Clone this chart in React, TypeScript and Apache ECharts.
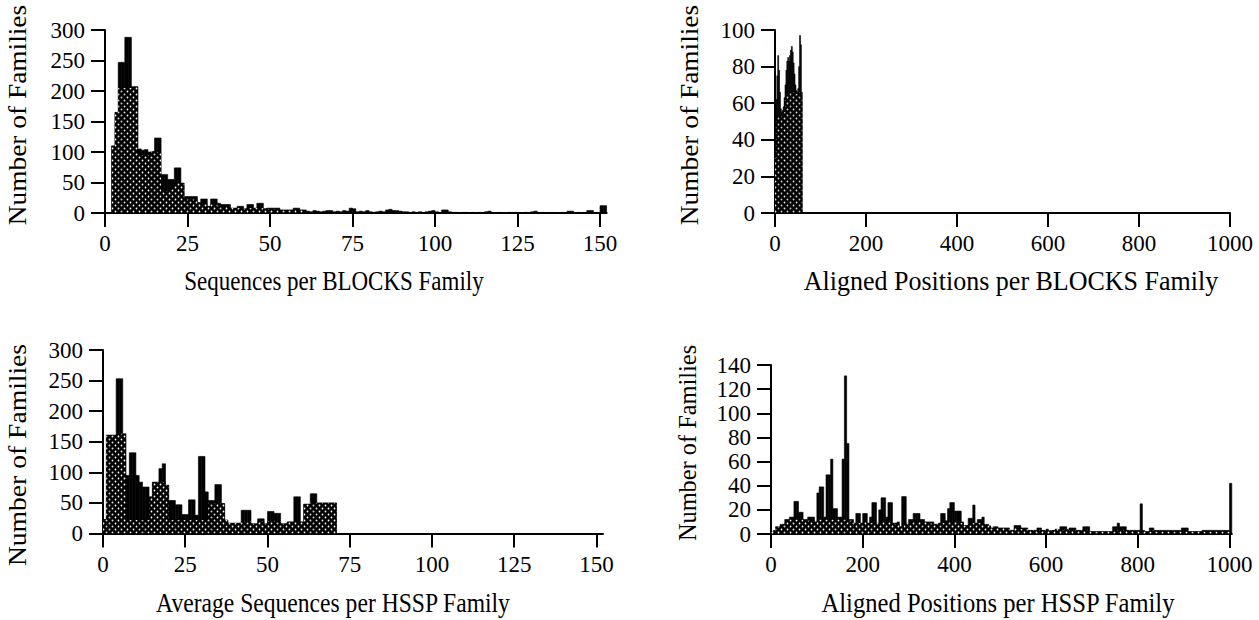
import React, { useEffect, useRef } from "react";
import * as echarts from "echarts";

const FONT = '"Liberation Serif", "Times New Roman", serif';

// ---------- Panel 1: Sequences per BLOCKS Family (bins of 1, from 0) ----------
const p1Ticks = [0, 25, 50, 75, 100, 125, 150];
const p1Black = [
  0, 0, 110, 165, 247, 247, 288, 288, 207, 207,
  105, 103, 104, 100, 101, 123, 123, 63, 63, 55,
  55, 74, 74, 49, 27, 27, 27, 27, 17, 23,
  23, 11, 23, 23, 16, 14, 14, 14, 8, 8,
  11, 11, 7, 14, 14, 8, 16, 16, 7, 8,
  8, 8, 8, 5, 5, 5, 5, 8, 8, 5,
  5, 3, 2, 4, 3, 2, 3, 4, 4, 2,
  3, 2, 4, 3, 8, 7, 2, 3, 2, 4,
  2, 1, 2, 3, 2, 5, 6, 4, 4, 3,
  2, 2, 1, 2, 1, 2, 1, 2, 3, 4,
  2, 1, 5, 5, 2, 1, 1, 0, 1, 1,
  0, 1, 0, 1, 0, 2, 3, 1, 0, 1,
  0, 0, 1, 0, 1, 0, 0, 1, 0, 2,
  3, 0, 1, 0, 0, 1, 0, 0, 1, 0,
  3, 3, 0, 1, 0, 1, 4, 4, 1, 0,
  12, 12,
];
const p1Stipple = [
  0, 0, 110, 165, 205, 205, 205, 205, 207, 207,
  95, 95, 95, 95, 101, 100, 100, 35, 35, 35,
  40, 49, 49, 49, 22, 22, 22, 22, 17, 15,
  15, 11, 15, 15, 12, 10, 10, 10, 8, 8,
  8, 8, 7, 8, 8, 8, 8, 8, 7, 6,
  6, 6, 6, 5, 5, 5, 5, 5, 5, 5,
];

// ---------- Panel 2: Aligned Positions per BLOCKS Family (bins of 2) ----------
const p2Ticks = [0, 200, 400, 600, 800, 1000];
const p2Black = [
  55, 62, 75, 86, 78, 66, 57, 55, 56, 58,
  63, 70, 78, 83, 85, 83, 86, 89, 91, 88,
  82, 76, 70, 67, 66, 68, 80, 97, 92, 66,
];
const p2Stipple = [
  30, 50, 53, 53, 53, 53, 53, 53, 53, 53,
  55, 62, 64, 65, 65, 65, 66, 66, 66, 66,
  66, 65, 65, 65, 65, 66, 66, 66, 66, 62,
];

// ---------- Panel 3: Average Sequences per HSSP Family (bins of 1) ----------
const p3Ticks = [0, 25, 50, 75, 100, 125, 150];
const p3Black = [
  23, 161, 161, 161, 253, 253, 163, 95, 132, 132,
  95, 84, 76, 76, 60, 84, 84, 106, 114, 79,
  54, 54, 47, 47, 31, 31, 55, 55, 30, 126,
  126, 68, 54, 54, 80, 80, 49, 22, 17, 17,
  17, 17, 38, 38, 38, 16, 16, 24, 24, 16,
  36, 36, 33, 33, 16, 16, 19, 19, 60, 60,
  19, 48, 48, 65, 65, 50, 50, 50, 50, 50, 50,
];
const p3Stipple = [
  23, 161, 161, 161, 163, 163, 163, 22, 22, 22,
  22, 22, 22, 22, 60, 84, 84, 84, 84, 79,
  22, 22, 22, 22, 22, 22, 22, 22, 22, 22,
  22, 22, 49, 49, 49, 49, 49, 22, 17, 17,
  17, 17, 20, 20, 20, 16, 16, 20, 20, 16,
  20, 20, 20, 20, 16, 16, 19, 19, 19, 19,
  19, 48, 48, 50, 50, 50, 50, 50, 50, 50, 50,
];

// ---------- Panel 4: Aligned Positions per HSSP Family (bins of 5 / 10) ----------
const p4Ticks = [0, 200, 400, 600, 800, 1000];
const p4Black = [
  0, 3, 6, 6, 8, 8, 12, 12, 14, 14,
  27, 27, 18, 18, 12, 12, 14, 14, 14, 10,
  34, 39, 39, 14, 49, 49, 62, 21, 21, 14,
  14, 62, 131, 75, 12, 12, 9, 17, 17, 9,
  17, 17, 9, 14, 26, 26, 9, 20, 30, 30,
  14, 26, 26, 9, 9, 10, 6, 31, 31, 9,
  12, 12, 17, 17, 17, 12, 12, 10, 10, 10,
  10, 8, 8, 9, 17, 17, 11, 21, 26, 26,
  19, 19, 19, 10, 7, 7, 13, 13, 24, 9,
  12, 12, 14, 8, 8, 5, 5, 6, 6, 5,
  5, 5, 5, 5, 3, 3, 7, 7, 7, 5,
  5, 5, 3, 3, 3, 3, 5, 5, 3, 3,
  4, 2, 3, 3, 4, 3, 6, 6, 6, 3,
  5, 5, 5, 3, 3, 3, 6, 6, 6, 2,
  2, 2, 2, 2, 2, 2, 2, 2, 2, 6,
  6, 9, 6, 6, 6, 3, 3, 3, 3, 3,
  3, 25, 3, 2, 2, 5, 5, 3, 3, 3,
  3, 3, 3, 3, 3, 3, 3, 3, 3, 5,
  5, 5, 2, 2, 2, 2, 2, 2, 3, 3,
  3, 3, 3, 3, 3, 3, 3, 3, 3, 3,
  42,
];
const p4Stipple = [
  2, 6, 8, 10, 12, 12, 12, 11, 11, 10,
  12, 12, 12, 12, 12, 12, 12, 11, 9, 9,
  10, 9, 10, 9, 10, 10, 9, 8, 6, 9,
  9, 10, 10, 10, 9, 8, 8, 9, 10, 10,
  10, 9, 7, 9, 9, 9, 8, 7, 5, 5,
  5, 4, 3, 5, 4, 4, 3, 3, 3, 3,
  3, 3, 4, 3, 4, 3, 3, 3, 3, 2,
  2, 2, 2, 2, 2, 3, 3, 3, 3, 2,
  2, 2, 2, 3, 2, 2, 2, 2, 2, 2,
  2, 2, 2, 2, 2, 2, 2, 2, 2, 2,
];

const yLabel = "Number of Families";
const xLabels = [
  "Sequences per BLOCKS Family",
  "Aligned Positions per BLOCKS Family",
  "Average Sequences per HSSP Family",
  "Aligned Positions per HSSP Family",
];

function bins(values: number[], width: number) {
  return values.map((v, i) => [i * width, (i + 1) * width, v]);
}

function makeStipple(): HTMLCanvasElement {
  const c = document.createElement("canvas");
  c.width = 6;
  c.height = 6;
  const ctx = c.getContext("2d")!;
  ctx.fillStyle = "#000";
  ctx.fillRect(0, 0, 6, 6);
  ctx.fillStyle = "#fff";
  ctx.beginPath();
  ctx.arc(1.5, 1.5, 0.9, 0, Math.PI * 2);
  ctx.arc(4.5, 4.5, 0.9, 0, Math.PI * 2);
  ctx.fill();
  return c;
}

export default function App() {
  const ref = useRef<HTMLDivElement>(null);
  useEffect(() => {
    if (!ref.current) return;
    const chart = echarts.init(ref.current, undefined, { renderer: "svg" });
    const stippleFill: any = {
      image: makeStipple(),
      repeat: "repeat",
      imageWidth: 6,
      imageHeight: 6,
    };

    const histSeries = (gi: number, data: number[][], fill: any, z: number, solid: boolean) => ({
      type: "custom",
      xAxisIndex: gi,
      yAxisIndex: gi,
      z,
      encode: { x: [0, 1], y: 2 },
      data,
      renderItem: (_p: any, api: any) => {
        const a = api.coord([api.value(0), 0]);
        const b = api.coord([api.value(1), api.value(2)]);
        return {
          type: "rect",
          shape: { x: a[0], y: b[1], width: b[0] - a[0], height: a[1] - b[1] },
          style: solid ? { fill, stroke: "#000", lineWidth: 0.6 } : { fill, stroke: null },
        };
      },
    });

    const fmt = (v: number) => String(v);
    const xAxis = (gi: number, max: number, ticks: number[]) => ({
      type: "value",
      gridIndex: gi,
      min: 0,
      max,
      axisLine: { show: true, onZero: false, lineStyle: { color: "#000", width: 2 } },
      axisTick: { show: true, length: 14, customValues: ticks, lineStyle: { color: "#000", width: 2 } },
      axisLabel: { customValues: ticks, formatter: fmt, color: "#000", fontFamily: FONT, fontSize: 23, margin: 19 },
      splitLine: { show: false },
    });
    const yAxis = (gi: number, max: number, interval: number) => ({
      type: "value",
      gridIndex: gi,
      min: 0,
      max,
      interval,
      axisLine: { show: true, onZero: false, lineStyle: { color: "#000", width: 2 } },
      axisTick: { show: true, length: 14, lineStyle: { color: "#000", width: 2 } },
      axisLabel: { formatter: fmt, color: "#000", fontFamily: FONT, fontSize: 23, margin: 20 },
      splitLine: { show: false },
    });

    const title = (x: number, y: number, text: string, size: number, sx: number, sy: number, rot = 0) => ({
      type: "text",
      x,
      y,
      rotation: rot,
      scaleX: sx,
      scaleY: sy,
      style: {
        text,
        fill: "#000",
        font: `${size}px ${FONT}`,
        textAlign: "center",
        textVerticalAlign: "middle",
      },
    });

    chart.setOption({
      animation: false,
      backgroundColor: "#fff",
      grid: [
        { left: 105, top: 30, width: 501.6, height: 183 },
        { left: 775, top: 30, width: 455, height: 183 },
        { left: 103, top: 350, width: 500, height: 183.5 },
        { left: 771, top: 365, width: 460.8, height: 169 },
      ],
      xAxis: [
        xAxis(0, 152, p1Ticks),
        xAxis(1, 1000, p2Ticks),
        xAxis(2, 152, p3Ticks),
        xAxis(3, 1005, p4Ticks),
      ],
      yAxis: [yAxis(0, 300, 50), yAxis(1, 100, 20), yAxis(2, 300, 50), yAxis(3, 140, 20)],
      series: [
        histSeries(0, bins(p1Black, 1), "#000", 2, true),
        histSeries(0, bins(p1Stipple, 1), stippleFill, 3, false),
        histSeries(1, bins(p2Black, 2), "#000", 2, true),
        histSeries(1, bins(p2Stipple, 2), stippleFill, 3, false),
        histSeries(2, bins(p3Black, 1), "#000", 2, true),
        histSeries(2, bins(p3Stipple, 1), stippleFill, 3, false),
        histSeries(3, bins(p4Black, 5), "#000", 2, true),
        histSeries(3, bins(p4Stipple, 10), stippleFill, 3, false),
      ],
      graphic: [
        title(18, 115, yLabel, 23, 1.19, 1.05, Math.PI / 2),
        title(690, 115, yLabel, 23, 1.19, 1.05, Math.PI / 2),
        title(18, 455, yLabel, 23, 1.2, 1.05, Math.PI / 2),
        title(688, 443, yLabel, 23, 1.06, 1.05, Math.PI / 2),
        title(334, 281, xLabels[0], 23, 1, 1.15),
        title(1011, 281, xLabels[1], 26, 1, 1.05),
        title(333, 603, xLabels[2], 23.6, 1, 1.12),
        title(998, 603, xLabels[3], 24.6, 1, 1.08),
      ],
    });
    return () => chart.dispose();
  }, []);
  return (
    <div
      ref={ref}
      style={{ position: "absolute", left: 0, top: 0, width: 1259, height: 620, background: "#fff" }}
    />
  );
}
